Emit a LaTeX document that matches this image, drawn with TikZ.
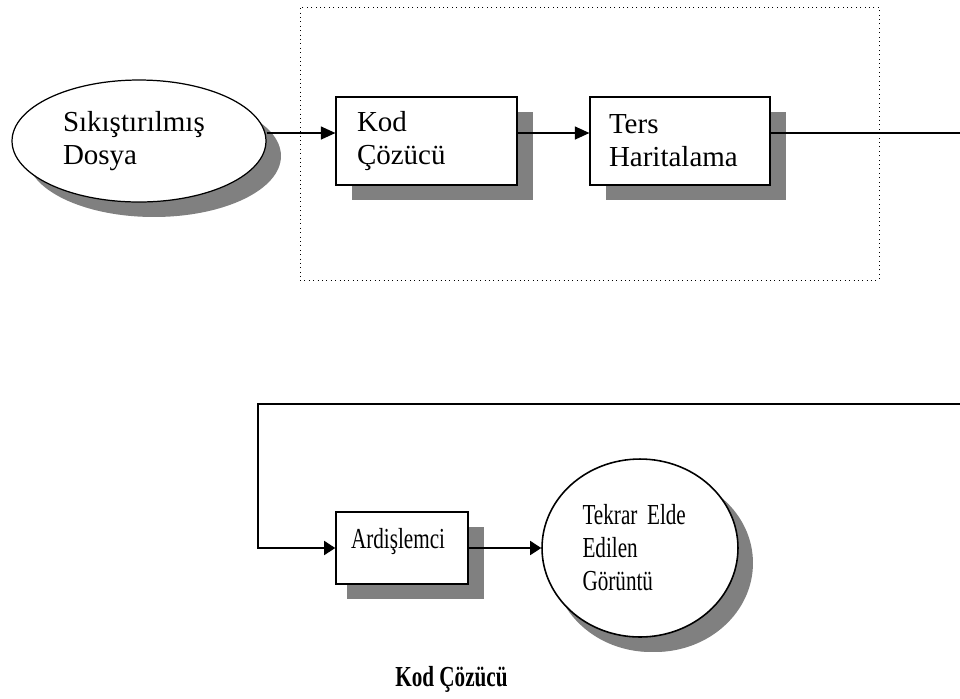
\documentclass[tikz,border=0pt]{standalone}
\usepackage{fontspec}
\setmainfont{Liberation Serif}
\newfontfamily\narrowfont[FakeStretch=0.73]{Liberation Serif}
\usetikzlibrary{shapes.geometric,shadows,arrows.meta}
\def \TextFont {\fontsize{16.5}{18.8}\selectfont}
\tikzstyle{block}=[
  draw=black,
  fill=white,
  line width=0.7pt,
  rectangle,
  minimum height=1.76cm,
  align=left,
  font=\TextFont,
  drop shadow={shadow xshift=0.32cm, shadow yshift=-0.3cm, fill=gray, opacity=1}
]
\tikzstyle{blob}=[
  draw=black,
  fill=white,
  line width=0.7pt,
  ellipse,
  align=left,
  font=\TextFont,
  drop shadow={shadow xshift=0.3cm, shadow yshift=-0.3cm, fill=gray, opacity=1}
]
\tikzstyle{narrow}=[
  line width=0.9pt,
  font=\narrowfont\TextFont,
  drop shadow={shadow xshift=0.22cm, shadow yshift=-0.3cm, fill=gray, opacity=1}
]
\tikzstyle{link}=[
  draw=black,
  line width=0.7pt,
  -{Triangle[length=0.29cm,width=0.26cm]}
]

\begin{document}
\begin{tikzpicture}[x=0.02cm, y=-0.02cm]
          \useasboundingbox (0,0) rectangle (960,698);
          \def \yUp {0.16cm}

          % decoder frame
          \node[draw=black, dotted, line width=0.5pt, inner sep=0pt,
                minimum width=11.58cm, minimum height=5.46cm] (frame) at (589.5,143.5) {};

          % top row
          \node[blob, minimum width=5.08cm, minimum height=2.44cm, text width=3.04cm] (dosya) at (139,141) {Sıkıştırılmış\\Dosya};
          \node[block, text width=2.78cm, inner xsep=0.42cm] (kod) at (426.5,141) {Kod\\Çözücü};
          \node[block, text width=2.84cm, inner xsep=0.38cm] (ters) at (680,141) {Ters\\Haritalama};

          % bottom row
          \node[block, narrow, minimum height=1.44cm, text width=2.04cm, inner xsep=0.3cm,
                text height=0.4cm, text depth=0.4cm] (ardis) at (402,548) {Ardişlemci};
          \node[blob, narrow, minimum width=3.92cm, minimum height=3.56cm, text width=2.3cm] (goruntu) at (640,548) {Tekrar Elde\\Edilen\\Görüntü};

          % caption
          \node[font=\narrowfont\bfseries\TextFont, anchor=base] (title) at (451.5,686) {Kod Çözücü};

          % connect top
          \draw[link] ([yshift=\yUp]dosya.east) -- ([yshift=\yUp]kod.west);
          \draw[link] ([yshift=\yUp]kod.east) -- ([yshift=\yUp]ters.west);

          % feed back to bottom row
          \coordinate (outR) at (966,404);
          \coordinate (outL) at (258,404);
          \draw[link, line width=0.9pt, -{Triangle[length=0.22cm,width=0.28cm]}] ([yshift=\yUp]ters.east) -| (outR) -- (outL) |- (ardis.west);
          \draw[link, line width=0.9pt, -{Triangle[length=0.22cm,width=0.28cm]}] (ardis) -- (goruntu);
        \end{tikzpicture}
\end{document}
